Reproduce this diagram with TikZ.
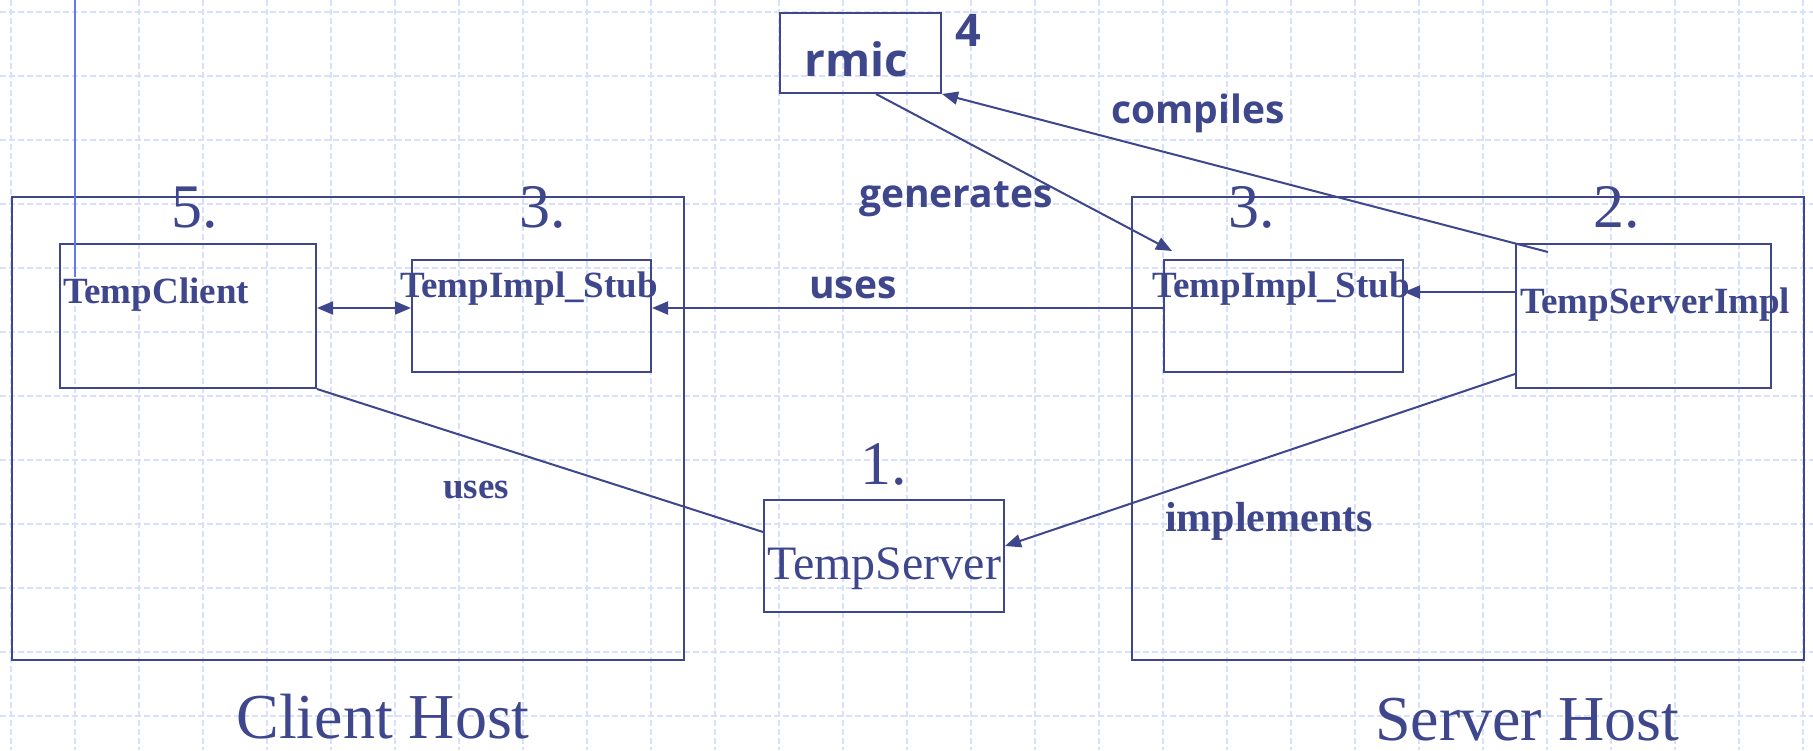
\documentclass[tikz,border=0pt]{standalone}
\usepackage{fontspec}
\setmainfont{Liberation Serif}
\newfontfamily\osans{Open Sans}
\usetikzlibrary{arrows.meta}
\definecolor{ink}{RGB}{62,70,140}
\definecolor{gridc}{RGB}{216,225,252}
\definecolor{bline}{RGB}{100,120,240}
\tikzset{
  gridline/.style={draw=gridc, line width=1.1pt, dash pattern=on 6pt off 3pt},
  box/.style={draw=ink, line width=2pt, inner sep=0pt, anchor=north west},
  txt/.style={inner sep=0pt, text=ink},
  serb/.style={txt, font=\fontsize{37pt}{40pt}\selectfont\bfseries},
  sanb/.style={txt, font=\osans\fontsize{39pt}{42pt}\selectfont\bfseries},
  num/.style={txt, font=\fontsize{62pt}{66pt}\selectfont},
  con/.style={draw=ink, line width=2pt},
  arr/.style={con, -{Triangle[length=16pt,width=13pt]}},
  darr/.style={con, {Triangle[length=16pt,width=13pt]}-{Triangle[length=16pt,width=13pt]}}
}
\begin{document}
\begin{tikzpicture}[x=1pt,y=-1pt]
\useasboundingbox (0,0) rectangle (1813,750);
\fill[white] (0,0) rectangle (1813,750);
% grid
\foreach \x in {11,75,...,1803} \draw[gridline] (\x,0) -- (\x,750);
\foreach \y in {12,76,...,716} \draw[gridline] (0,\y) -- (1813,\y);
% host boxes
\node[box, minimum width=672pt, minimum height=463pt] (clienthost) at (11,196) {};
\node[box, minimum width=672pt, minimum height=463pt] (serverhost) at (1131,196) {};
% inner boxes
\node[box, minimum width=256pt, minimum height=144pt] (tc) at (59,243) {};
\node[box, minimum width=239pt, minimum height=112pt] (cstub) at (411,259) {};
\node[box, minimum width=239pt, minimum height=112pt] (sstub) at (1163,259) {};
\node[box, minimum width=255pt, minimum height=144pt] (simpl) at (1515,243) {};
\node[box, minimum width=161pt, minimum height=80pt] (rmic) at (779,12) {};
\node[box, minimum width=240pt, minimum height=112pt] (ts) at (763,499) {};
% blue line
\coordinate (btop) at (75,0);
\coordinate (bbot) at (75,277);
\draw[draw=bline, line width=1.6pt] (btop) -- (bbot);
% texts in boxes
\node[serb, anchor=base west] (tctext) at (63,303) {TempClient};
\node[serb, anchor=base west] (cstubtext) at (400,297) {TempImpl\_Stub};
\node[serb, anchor=base west] (sstubtext) at (1152,297) {TempImpl\_Stub};
\node[serb, anchor=base west] (simpltext) at (1520,313) {TempServerImpl};
\node[txt, anchor=base west, font=\fontsize{48pt}{52pt}\selectfont] (tstext) at (767,579) {TempServer};
\node[txt, anchor=base, font=\osans\fontsize{46pt}{50pt}\selectfont\bfseries] (rmictext) at (856,76) {rmic};
% numbers
\node[txt, anchor=base, font=\osans\fontsize{45pt}{50pt}\selectfont\bfseries] (n4) at (968,46) {4};
\node[num, anchor=base] (n5) at (195,227) {5.};
\node[num, anchor=base] (n3a) at (543,227) {3.};
\node[num, anchor=base] (n3b) at (1252,227) {3.};
\node[num, anchor=base] (n2) at (1617,227) {2.};
\node[num, anchor=base] (n1) at (884,484) {1.};
% labels
\node[sanb, anchor=base] (lcompiles) at (1198,123) {compiles};
\node[sanb, anchor=base] (lgenerates) at (956,207) {generates};
\node[sanb, anchor=base] (luses) at (853,298) {uses};
\node[serb, anchor=base] (luses2) at (476,498) {uses};
\node[txt, anchor=base, font=\fontsize{42pt}{46pt}\selectfont\bfseries] (limpl) at (1269,531) {implements};
\node[txt, anchor=base, font=\fontsize{64pt}{68pt}\selectfont] (lclient) at (383,738) {Client Host};
\node[txt, anchor=base, font=\fontsize{64pt}{68pt}\selectfont] (lserver) at (1527,740) {Server Host};
% connectors
\draw[darr] ([yshift=8pt]tc.east) -- ([yshift=8pt]cstub.west);
\draw[arr] ([yshift=8pt]sstub.west) -- ([yshift=8pt]cstub.east);
\draw[arr] ([yshift=24pt]simpl.west) -- ([yshift=24pt]sstub.east);
\draw[arr] ([xshift=33pt,yshift=-9pt]simpl.north west) -- (rmic.south east);
\draw[arr] ([xshift=97pt]rmic.south west) -- ([xshift=9pt,yshift=8pt]sstub.north west);
\draw[arr] ([yshift=15pt]simpl.south west) -- ([yshift=10pt]ts.east);
\draw[con] (tc.south east) -- ([yshift=24pt]ts.west);
\end{tikzpicture}
\end{document}
